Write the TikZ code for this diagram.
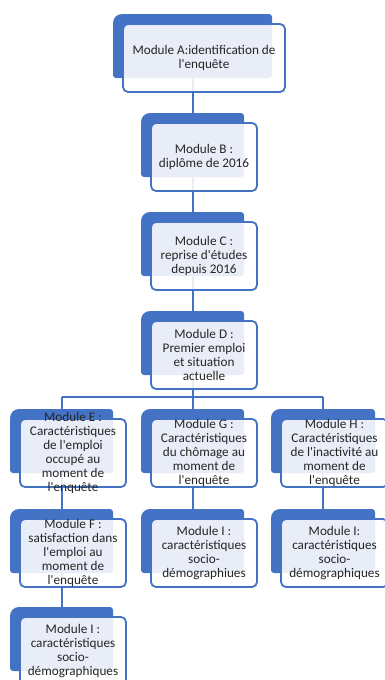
\documentclass[tikz,border=0pt]{standalone}
\usepackage{fontspec}
\setmainfont{Carlito}[Ligatures=TeXOff]
\definecolor{mblue}{HTML}{4472C4}
\tikzset{
  frontbox/.style={draw=mblue, line width=1.8pt, fill=white, fill opacity=0.88,
    rounded corners=5pt, inner sep=0pt},
  modtext/.style={text=black!85, align=center, inner sep=0pt,
    font=\fontsize{13.2}{14}\selectfont},
  conn/.style={draw=mblue, line width=2pt}
}
\newcommand\modbox[5]{% #1 name, #2 x1, #3 y1, #4 width of back box, #5 text
  \pgfmathsetmacro\mxa{#2}%
  \pgfmathsetmacro\mya{#3}%
  \pgfmathsetmacro\mxb{#2+#4}%
  \pgfmathsetmacro\myb{#3+64}%
  \pgfmathsetmacro\mfx{#2+10+(#4+3)/2}%
  \pgfmathsetmacro\mfy{#3+10+34}%
  \fill[mblue] (\mxa+9,\mya) -- (\mxb-3,\mya) arc[start angle=270,end angle=360,radius=3]
    -- (\mxb,\myb-3) arc[start angle=0,end angle=90,radius=3]
    -- (\mxa+3,\myb) arc[start angle=90,end angle=180,radius=3]
    -- (\mxa,\mya+9) arc[start angle=180,end angle=270,radius=9] -- cycle;
  \node[frontbox, minimum width=#4+3, minimum height=68] (#1) at (\mfx,\mfy) {};
  \node[modtext] (#1-t) at (#1.center) {#5};
}
\begin{document}
\begin{tikzpicture}[x=1pt,y=-1pt]
\useasboundingbox (0,0) rectangle (385,680);
\clip (0,0) rectangle (385,680);
% back-box centres for connectors
\coordinate (cA) at (192.5,46);
\coordinate (cB) at (192.5,145);
\coordinate (cC) at (192.5,244);
\coordinate (cD) at (192.5,343);
\coordinate (cE) at (61.5,441);
\coordinate (cG) at (192.5,441);
\coordinate (cH) at (323,441);
\coordinate (cF) at (61.5,541);
\coordinate (cIG) at (192.5,541);
\coordinate (cIH) at (323,541);
\coordinate (cIE) at (61.5,639);
\coordinate (busE) at (61.5,397);
\coordinate (busH) at (323,397);
% connectors
\draw[conn] (cA) -- (cB) -- (cC) -- (cD) -- (cD |- busE);
\draw[conn] (busE) -- (busH);
\draw[conn] (busE) -- (cE) -- (cF) -- (cIE);
\draw[conn] (cD |- busE) -- (cG) -- (cIG);
\draw[conn] (busH) -- (cH) -- (cIH);
% modules
\modbox{mA}{113}{14}{159}{Module A:identification de\\l'enquête}
\modbox{mB}{141}{113}{103}{Module B :\\diplôme de 2016}
\modbox{mC}{141}{212}{103}{Module C :\\reprise d'études\\depuis 2016}
\modbox{mD}{141}{311}{103}{Module D :\\Premier emploi\\et situation\\actuelle}
\modbox{mE}{10}{409}{103}{Module E :\\Caractéristiques\\de l'emploi\\occupé au\\moment de\\l'enquête}
\modbox{mG}{141}{409}{103}{Module G :\\Caractéristiques\\du chômage au\\moment de\\l'enquête}
\modbox{mH}{271}{409}{104}{Module H :\\Caractéristiques\\de l'inactivité au\\moment de\\l'enquête}
\modbox{mF}{10}{509}{103}{Module F :\\satisfaction dans\\l'emploi au\\moment de\\l'enquête}
\modbox{mIG}{141}{509}{103}{Module I :\\caractéristiques\\socio-\\démographiues}
\modbox{mIH}{271}{509}{104}{Module I:\\caractéristiques\\socio-\\démographiques}
\modbox{mIE}{10}{607}{103}{Module I :\\caractéristiques\\socio-\\démographiques}
\end{tikzpicture}
\end{document}
